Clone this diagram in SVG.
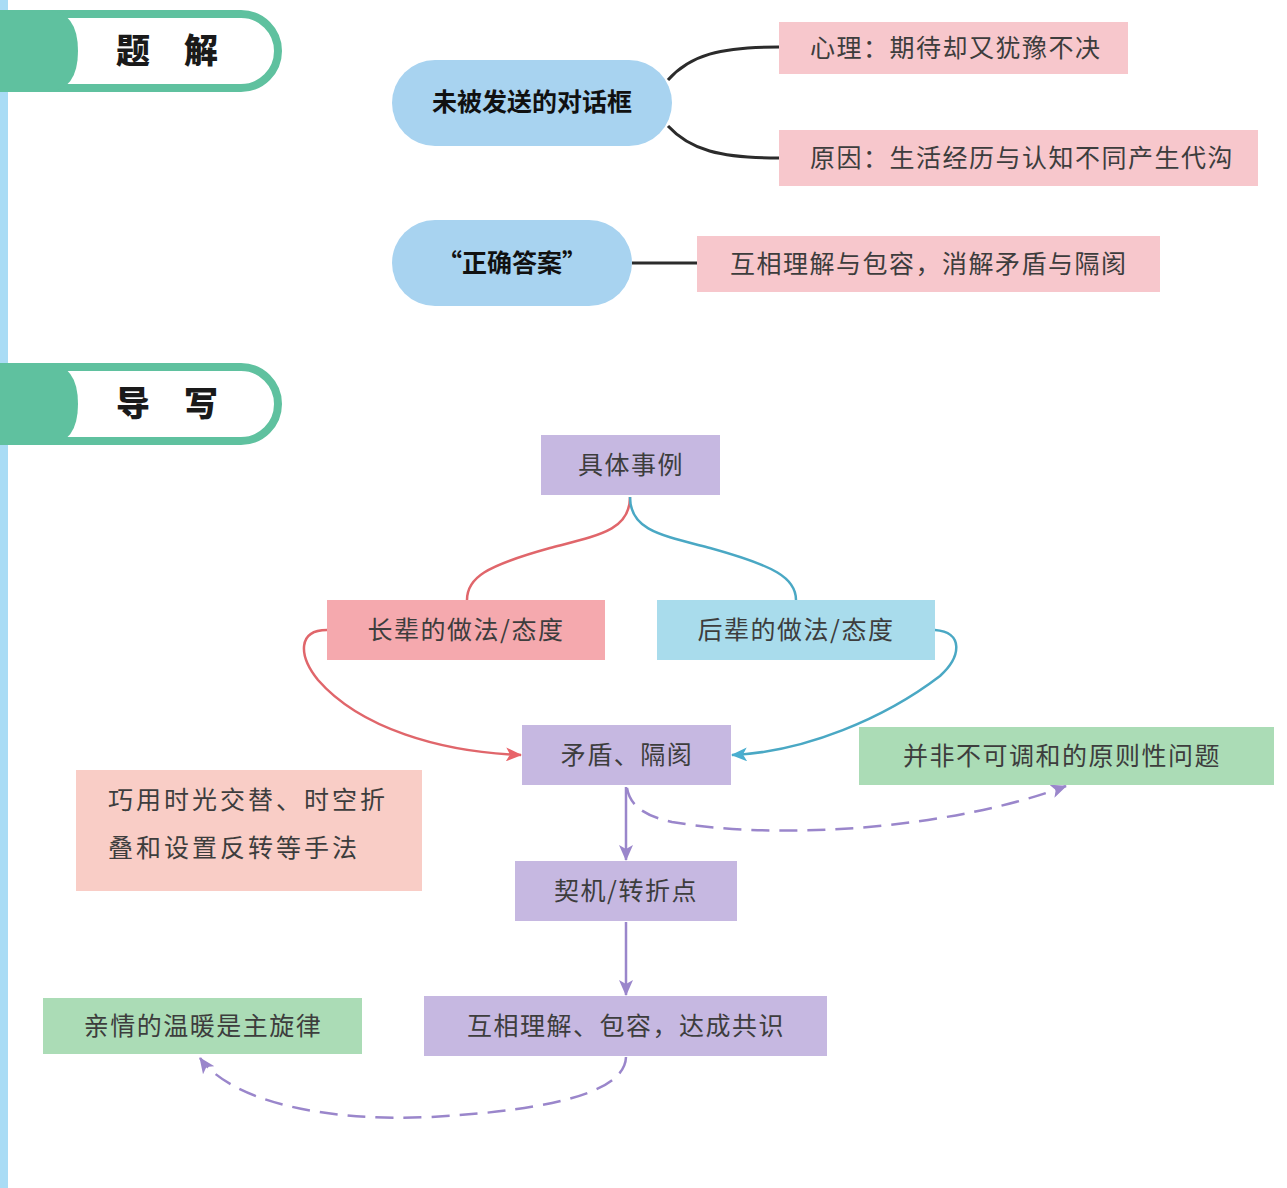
<svg xmlns="http://www.w3.org/2000/svg" width="1287" height="1188" viewBox="0 0 1287 1188">
<defs>
<style>
.t{font-family:"Noto Sans CJK SC","Noto Sans",sans-serif;font-size:25px;fill:#3d3d3d;letter-spacing:1.5px}
.b{font-family:"Noto Sans CJK SC","Noto Sans",sans-serif;font-size:25px;font-weight:bold;fill:#111}
.h{font-family:"Noto Sans CJK SC","Noto Sans",sans-serif;font-size:34px;font-weight:900;fill:#1a1a1a;letter-spacing:34px}
.pill{fill:#a8d3f0}
.pk{fill:#f7c7cc}
.pu{fill:#c6b8e1}
.gr{fill:#abdcb6}
.blk{fill:none;stroke:#2b2b2b;stroke-width:3}
.pl{fill:none;stroke:#9a86cb;stroke-width:2.5}
.dash{stroke-dasharray:18 10}
</style>
<marker id="aR" viewBox="0 0 16 14" refX="15" refY="7" markerWidth="16" markerHeight="14" markerUnits="userSpaceOnUse" orient="auto"><path d="M0,0 L16,7 L0,14 L4,7 Z" fill="#e8646a"/></marker>
<marker id="aB" viewBox="0 0 16 14" refX="15" refY="7" markerWidth="16" markerHeight="14" markerUnits="userSpaceOnUse" orient="auto"><path d="M0,0 L16,7 L0,14 L4,7 Z" fill="#4aaed0"/></marker>
<marker id="aV" viewBox="0 0 16 14" refX="15" refY="7" markerWidth="16" markerHeight="14" markerUnits="userSpaceOnUse" orient="auto"><path d="M0,0 L16,7 L0,14 L4,7 Z" fill="#9a86cb"/></marker>
</defs>
<rect width="1287" height="1188" fill="#ffffff"/>
<rect x="0" y="0" width="8" height="1188" fill="#a9dcf5"/>

<g id="tab1">
<rect x="-20" y="14" width="298" height="74" rx="37" fill="#fff" stroke="#5fc19f" stroke-width="8"/>
<path d="M0,10 H48 Q78,12 78,51 Q78,90 48,92 H0 Z" fill="#5fc19f"/>
<text class="h" x="116" y="63">题解</text>
</g>
<g id="tab2">
<rect x="-20" y="367" width="298" height="74" rx="37" fill="#fff" stroke="#5fc19f" stroke-width="8"/>
<path d="M0,363 H48 Q78,365 78,404 Q78,443 48,445 H0 Z" fill="#5fc19f"/>
<text class="h" x="116" y="416">导写</text>
</g>

<g id="connectors">
<path class="blk" d="M668,80 C690,55 720,47 779,47"/>
<path class="blk" d="M668,126 C690,150 720,158 779,158"/>
<path class="blk" d="M632,263 H697"/>
<path d="M630,497 C630,530 600,535 550,548 C485,566 467,578 467,600" fill="none" stroke="#e0666b" stroke-width="2.5"/>
<path d="M630,497 C630,530 660,535 710,548 C775,566 796,578 796,600" fill="none" stroke="#4aa8c4" stroke-width="2.5"/>
<path d="M327,630 C298,630 298,655 318,680 C360,728 440,752 521,755" fill="none" stroke="#e0666b" stroke-width="2.5" marker-end="url(#aR)"/>
<path d="M935,630 C963,632 962,656 940,676 C885,718 805,752 732,755" fill="none" stroke="#4aa8c4" stroke-width="2.5" marker-end="url(#aB)"/>
<path class="pl" d="M626,787 V860" marker-end="url(#aV)"/>
<path class="pl" d="M626,922 V995" marker-end="url(#aV)"/>
<path class="pl dash" d="M627,788 C630,806 645,816 672,822 C790,842 960,826 1066,786" marker-end="url(#aV)"/>
<path class="pl dash" d="M626,1057 C625,1090 560,1110 430,1117 C320,1122 230,1100 200,1058" marker-end="url(#aV)"/>
</g>

<g id="n1"><rect class="pill" x="392" y="60" width="280" height="86" rx="43"/><text class="b" x="532" y="111" text-anchor="middle">未被发送的对话框</text></g>
<g id="n2"><rect class="pk" x="779" y="22" width="349" height="52"/><text class="t" x="810" y="57">心理：期待却又犹豫不决</text></g>
<g id="n3"><rect class="pk" x="779" y="130" width="479" height="56"/><text class="t" x="810" y="167">原因：生活经历与认知不同产生代沟</text></g>
<g id="n4"><rect class="pill" x="392" y="220" width="240" height="86" rx="43"/><text class="b" x="512" y="272" text-anchor="middle">“正确答案”</text></g>
<g id="n5"><rect class="pk" x="697" y="236" width="463" height="56"/><text class="t" x="730" y="273">互相理解与包容，消解矛盾与隔阂</text></g>

<g id="n6"><rect class="pu" x="541" y="435" width="179" height="60"/><text class="t" x="631" y="474" text-anchor="middle">具体事例</text></g>
<g id="n7"><rect x="327" y="600" width="278" height="60" fill="#f5a9ae"/><text class="t" x="466" y="639" text-anchor="middle">长辈的做法/态度</text></g>
<g id="n8"><rect x="657" y="600" width="278" height="60" fill="#a9dcec"/><text class="t" x="796" y="639" text-anchor="middle">后辈的做法/态度</text></g>
<g id="n9"><rect class="pu" x="522" y="725" width="209" height="60"/><text class="t" x="627" y="764" text-anchor="middle">矛盾、隔阂</text></g>
<g id="n10"><rect class="gr" x="859" y="727" width="415" height="58"/><text class="t" x="1062" y="765" text-anchor="middle">并非不可调和的原则性问题</text></g>
<g id="n11"><rect x="76" y="770" width="346" height="121" fill="#f9cdc6"/><text class="t" x="108" y="809" style="letter-spacing:3px">巧用时光交替、时空折</text><text class="t" x="108" y="857" style="letter-spacing:3px">叠和设置反转等手法</text></g>
<g id="n12"><rect class="pu" x="515" y="861" width="222" height="60"/><text class="t" x="626" y="900" text-anchor="middle">契机/转折点</text></g>
<g id="n13"><rect class="pu" x="424" y="996" width="403" height="60"/><text class="t" x="626" y="1035" text-anchor="middle">互相理解、包容，达成共识</text></g>
<g id="n14"><rect class="gr" x="43" y="998" width="319" height="56"/><text class="t" x="203" y="1035" text-anchor="middle">亲情的温暖是主旋律</text></g>
</svg>
